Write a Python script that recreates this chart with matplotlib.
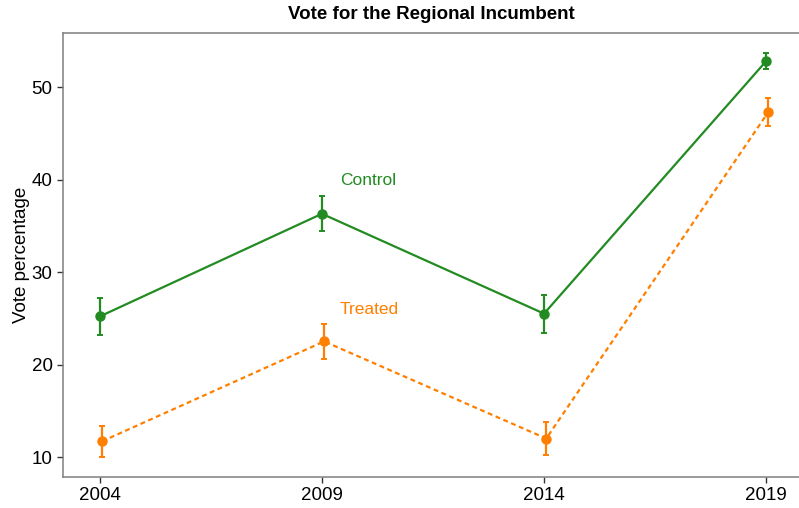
import numpy as np
import matplotlib.pyplot as plt

plt.rcParams['font.family'] = ['Liberation Sans', 'DejaVu Sans']

years = np.array([2004, 2009, 2014, 2019])
control = np.array([25.2, 36.3, 25.5, 52.8])
control_err = np.array([2.0, 1.9, 2.05, 0.9])
treated = np.array([11.7, 22.5, 12.0, 47.3])
treated_err = np.array([1.7, 1.85, 1.8, 1.5])

green = '#228B22'
orange = '#FF7F00'

fig = plt.figure(figsize=(7.99, 5.08), dpi=100)
ax = fig.add_axes([0.0788, 0.061, 0.9212, 0.874])

ax.errorbar(years, control, control_err, color=green, linestyle='-', linewidth=1.6,
            marker='o', markersize=6.5, capsize=2.5, elinewidth=1.6, capthick=1.4)
ax.errorbar(years + 0.05, treated, treated_err, color=orange, linestyle=(0, (2.2, 1.6)), linewidth=1.6,
            marker='o', markersize=6.5, capsize=2.5, elinewidth=1.6, capthick=1.4)

ax.text(2009.4, 39.9, 'Control', color=green, fontsize=12.5, va='center')
ax.text(2009.4, 26.0, 'Treated', color=orange, fontsize=12.5, va='center')

ax.set_xlim(2003.17, 2019.74)
ax.set_ylim(7.84, 55.84)
ax.set_xticks(years)
ax.set_yticks([10, 20, 30, 40, 50])
ax.tick_params(labelsize=13.5, length=4, width=1, color='#333333', labelcolor='black')
ax.set_ylabel('Vote percentage', fontsize=13.5, labelpad=1)
ax.set_title('Vote for the Regional Incumbent', fontsize=13.5, fontweight='bold', pad=10)

for s in ['left', 'bottom', 'top']:
    ax.spines[s].set_color('#7f7f7f')
    ax.spines[s].set_linewidth(1.1)
ax.spines['right'].set_visible(False)

fig.savefig('out.png', dpi=100)
